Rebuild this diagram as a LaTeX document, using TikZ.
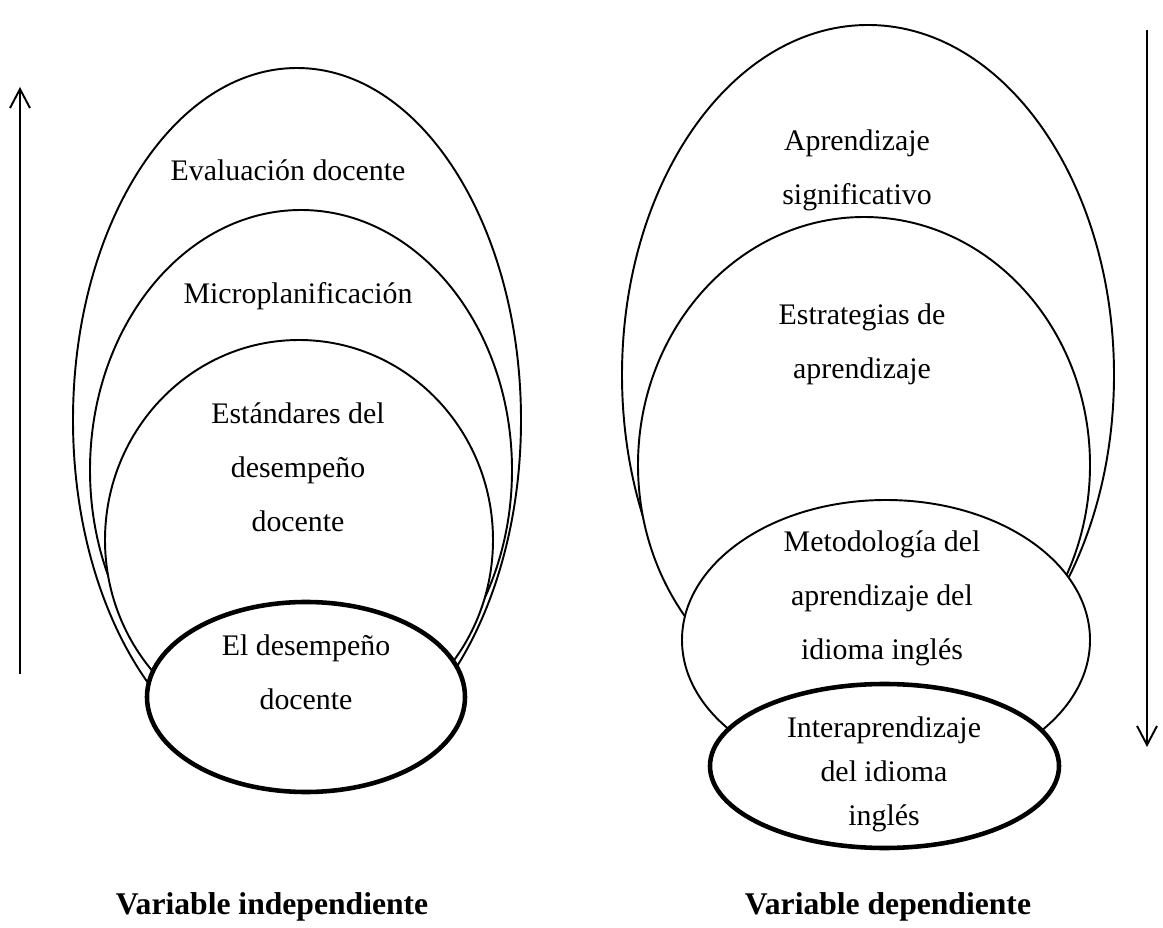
\documentclass[tikz,border=0pt]{standalone}
\usepackage{fontspec}
\setmainfont{Liberation Serif}
\usetikzlibrary{arrows.meta}

\begin{document}
\begin{tikzpicture}[x=0.02cm, y=-0.02cm,
  ovalo/.style={draw, fill=white, line width=1.1pt},
  ovalobase/.style={draw, fill=white, line width=2.6pt},
  testo/.style={align=center, font=\fontsize{17}{30.7}\selectfont},
  testobase/.style={align=center, font=\fontsize{17}{25}\selectfont},
  titolo/.style={font=\fontsize{18}{22}\selectfont\bfseries},
  freccia/.style={line width=1.1pt, -{Straight Barb[length=0.38cm,width=0.4cm]}}]

\useasboundingbox (0,0) rectangle (1163,928);

% Variable independiente: ovali
\draw[ovalo] (297,420) ellipse [x radius=224, y radius=352];
\draw[ovalo] (301,470) ellipse [x radius=211, y radius=260];
\draw[ovalo] (299,540) ellipse [x radius=194, y radius=200];
\draw[ovalobase] (306,697) ellipse [x radius=159, y radius=95];

% Variable independiente: testi
\node[testo] (evaluacion) at (288,170) {Evaluación docente};
\node[testo] (microplan) at (298,296) {Microplanificación};
\node[testo] (estandares) at (298,467) {Estándares del\\desempeño\\docente};
\node[testo] (desempeno) at (306,672) {El desempeño\\docente};

% Variable dependiente: ovali
\draw[ovalo] (868,375) ellipse [x radius=246, y radius=350];
\draw[ovalo] (864,465) ellipse [x radius=226, y radius=248];
\draw[ovalo] (886,640) ellipse [x radius=204, y radius=140];
\draw[ovalobase] (884.5,766) ellipse [x radius=174.5, y radius=82];

% Variable dependiente: testi
\node[testo] (significativo) at (857,170) {Aprendizaje\\significativo};
\node[testo] (estrategias) at (862,344) {Estrategias de\\aprendizaje};
\node[testo] (metodologia) at (882,598) {Metodología del\\aprendizaje del\\idioma inglés};
\node[testobase] (interapr) at (884,774) {Interaprendizaje\\del idioma\\inglés};

% Frecce
\coordinate (sx-ini) at (20,674);
\coordinate (sx-fin) at (20,87);
\draw[freccia] (sx-ini) -- (sx-fin);
\coordinate (dx-ini) at (1147,30);
\coordinate (dx-fin) at (1147,747);
\draw[freccia] (dx-ini) -- (dx-fin);

% Titoli
\node[titolo] (indep) at (272,907) {Variable independiente};
\node[titolo] (dep) at (888,907) {Variable dependiente};
\end{tikzpicture}
\end{document}
